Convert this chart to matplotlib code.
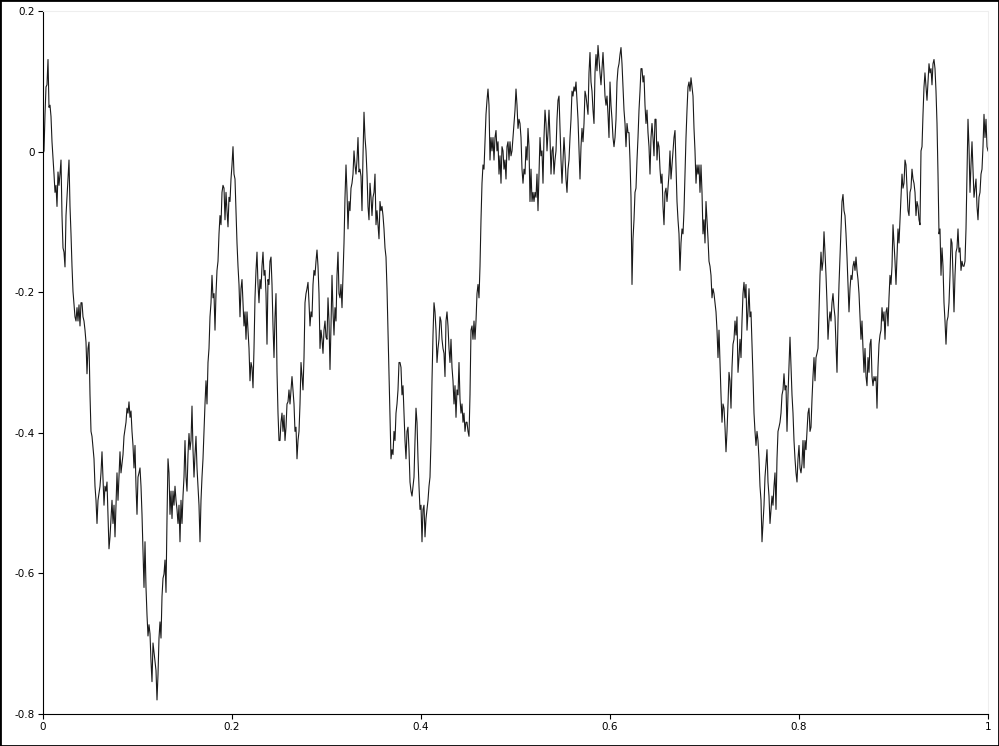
import numpy as np
import matplotlib.pyplot as plt
from matplotlib.patches import Rectangle

# signal values, one per pixel column, left to right
y_seg1 = [-0.003, 0.001, 0.053, 0.092, 0.095, 0.131, 0.063, 0.066, 0.050, 0.014,
          -0.009, -0.032, -0.058, -0.048, -0.078, -0.029, -0.048, -0.032, -0.012, -0.091,
          -0.137, -0.143, -0.164, -0.091, -0.065, -0.039, -0.012, -0.078, -0.117, -0.163,
          -0.199, -0.218, -0.235, -0.241, -0.222, -0.241, -0.218, -0.248, -0.215, -0.215,
          -0.235, -0.241, -0.254, -0.271, -0.316, -0.280, -0.271, -0.346, -0.398, -0.405,
          -0.421, -0.437, -0.476, -0.496, -0.529, -0.496, -0.486, -0.476, -0.457, -0.427,
          -0.463, -0.503, -0.476, -0.483, -0.470, -0.516, -0.565, -0.548, -0.522, -0.496,
          -0.529, -0.503, -0.548, -0.503, -0.457, -0.496, -0.463, -0.427, -0.457, -0.444,
          -0.431, -0.405, -0.395, -0.385, -0.365, -0.372, -0.356, -0.378, -0.369, -0.398,
          -0.418, -0.450, -0.418, -0.476, -0.516, -0.463, -0.457, -0.450, -0.476, -0.516,
          -0.568, -0.620, -0.555, -0.620, -0.659, -0.689, -0.673, -0.686, -0.725, -0.754,
          -0.699, -0.712, -0.725, -0.738, -0.780, -0.744, -0.692]

y_seg2 = [-0.669, -0.692, -0.633, -0.607, -0.601, -0.581, -0.627, -0.522, -0.437, -0.457,
          -0.516, -0.483, -0.522, -0.483, -0.503, -0.476, -0.496, -0.509, -0.529, -0.503,
          -0.555, -0.496, -0.529, -0.490, -0.463, -0.411, -0.463, -0.483, -0.431, -0.401,
          -0.424, -0.411, -0.362, -0.424, -0.463, -0.431, -0.405, -0.450, -0.476, -0.503,
          -0.555, -0.496, -0.463, -0.437, -0.398, -0.359, -0.326, -0.359, -0.300, -0.280,
          -0.235, -0.215, -0.176, -0.208, -0.202, -0.254, -0.202, -0.169, -0.156, -0.117,
          -0.091, -0.104, -0.058, -0.048, -0.052, -0.097, -0.058, -0.084, -0.107, -0.065,
          -0.071, -0.039, -0.019, 0.007, -0.032, -0.039, -0.084, -0.130, -0.163, -0.189,
          -0.235, -0.195, -0.182, -0.215, -0.248, -0.228, -0.267, -0.228, -0.254, -0.280,
          -0.326, -0.300, -0.307, -0.336, -0.280, -0.208, -0.169, -0.143, -0.189, -0.215,
          -0.182, -0.195, -0.163, -0.143, -0.176, -0.169, -0.202, -0.274, -0.182, -0.189,
          -0.156, -0.150, -0.189, -0.248, -0.293, -0.235, -0.202, -0.313, -0.372, -0.411]

y_seg3 = [-0.411, -0.385, -0.372, -0.398, -0.375, -0.411, -0.392, -0.359, -0.356, -0.339,
          -0.359, -0.339, -0.320, -0.339, -0.359, -0.398, -0.392, -0.437, -0.411, -0.398,
          -0.359, -0.300, -0.320, -0.339, -0.293, -0.215, -0.202, -0.195, -0.186, -0.215,
          -0.248, -0.228, -0.235, -0.189, -0.169, -0.176, -0.156, -0.140, -0.163, -0.202,
          -0.280, -0.254, -0.267, -0.287, -0.254, -0.241, -0.264, -0.267, -0.208, -0.241,
          -0.310, -0.248, -0.176, -0.228, -0.261, -0.222, -0.241, -0.176, -0.143, -0.202,
          -0.208, -0.189, -0.222, -0.176, -0.130, -0.065, -0.019, -0.058, -0.110, -0.071,
          -0.084, -0.052, -0.045, -0.032, 0.001, -0.019, -0.032, -0.012, 0.020, -0.029,
          -0.025, -0.035, -0.084, -0.006, 0.056, 0.020, 0.001, -0.032, -0.078, -0.097,
          -0.045, -0.065, -0.091, -0.065, -0.058, -0.032, -0.104, -0.084, -0.104, -0.124,
          -0.071, -0.084, -0.078, -0.091, -0.110, -0.137, -0.150, -0.195, -0.254, -0.307,
          -0.372, -0.437, -0.424, -0.431, -0.398, -0.411, -0.372, -0.359, -0.339, -0.300]

y_seg4 = [-0.300, -0.307, -0.346, -0.333, -0.372, -0.411, -0.437, -0.398, -0.392, -0.424,
          -0.470, -0.483, -0.490, -0.476, -0.463, -0.411, -0.365, -0.385, -0.437, -0.476,
          -0.509, -0.503, -0.555, -0.509, -0.503, -0.548, -0.522, -0.509, -0.496, -0.476,
          -0.463, -0.411, -0.326, -0.261, -0.215, -0.228, -0.254, -0.300, -0.280, -0.267,
          -0.235, -0.241, -0.267, -0.280, -0.287, -0.320, -0.241, -0.228, -0.248, -0.280,
          -0.300, -0.267, -0.307, -0.326, -0.359, -0.333, -0.378, -0.339, -0.346, -0.300,
          -0.352, -0.372, -0.359, -0.385, -0.372, -0.398, -0.385, -0.385, -0.398, -0.405,
          -0.346, -0.254, -0.248, -0.267, -0.241, -0.267, -0.241, -0.202, -0.189, -0.208,
          -0.163, -0.097, -0.045, -0.019, -0.025, 0.014, 0.053, 0.073, 0.089, 0.066,
          -0.012, 0.020, 0.001, 0.020, -0.012, 0.020, 0.030, 0.001, 0.014, -0.032,
          -0.006, -0.045, 0.007, 0.001, -0.025, -0.012, -0.039, 0.007, 0.014, -0.012,
          0.014, -0.006, 0.001, 0.020, 0.040, 0.059, 0.089, 0.066, 0.033, 0.046]

y_seg5 = [0.040, 0.020, -0.025, -0.045, -0.025, -0.032, 0.007, -0.012, 0.033, 0.007,
          -0.071, -0.025, -0.071, -0.058, -0.071, -0.058, -0.065, -0.032, -0.084, -0.032,
          0.020, -0.006, 0.001, -0.045, 0.020, 0.059, 0.040, 0.001, 0.027, 0.059,
          0.020, -0.032, 0.001, 0.007, -0.032, -0.012, 0.001, 0.046, 0.073, 0.079,
          0.033, -0.012, -0.045, -0.012, 0.020, -0.006, -0.039, -0.058, -0.025, -0.012,
          0.020, 0.046, 0.086, 0.079, 0.092, 0.086, 0.099, 0.073, 0.046, 0.001,
          -0.039, 0.007, 0.033, 0.014, 0.040, 0.086, 0.079, 0.066, 0.053, 0.112,
          0.141, 0.099, 0.086, 0.059, 0.040, 0.112, 0.138, 0.115, 0.151, 0.131,
          0.112, 0.095, 0.118, 0.141, 0.112, 0.079, 0.066, 0.079, 0.053, 0.020,
          0.099, 0.066, 0.046, 0.020, 0.007, 0.020, 0.046, 0.099, 0.118, 0.125,
          0.138, 0.148, 0.125, 0.092, 0.059, 0.040, 0.007, 0.040, 0.027, 0.027,
          -0.012, -0.065, -0.189, -0.124, -0.097, -0.058, -0.052, -0.012, 0.020, 0.059]

y_seg6 = [0.086, 0.118, 0.118, 0.099, 0.108, 0.066, 0.040, 0.059, 0.027, 0.007,
          -0.032, 0.020, 0.040, 0.020, -0.006, 0.046, 0.046, -0.012, 0.014, 0.007,
          -0.025, -0.045, -0.032, -0.078, -0.104, -0.058, -0.052, -0.071, -0.052, -0.032,
          0.001, -0.039, -0.019, 0.001, 0.020, 0.030, -0.019, -0.071, -0.097, -0.117,
          -0.169, -0.130, -0.110, -0.117, -0.084, -0.032, 0.020, 0.059, 0.092, 0.099,
          0.086, 0.105, 0.092, 0.079, 0.033, 0.001, -0.045, -0.019, -0.032, -0.019,
          -0.058, -0.019, -0.058, -0.117, -0.097, -0.130, -0.071, -0.097, -0.124, -0.156,
          -0.163, -0.176, -0.208, -0.195, -0.202, -0.215, -0.228, -0.254, -0.293, -0.254,
          -0.300, -0.346, -0.385, -0.359, -0.365, -0.392, -0.427, -0.398, -0.359, -0.314,
          -0.326, -0.365, -0.307, -0.274, -0.267, -0.241, -0.261, -0.235, -0.314, -0.293,
          -0.267, -0.293, -0.241, -0.202, -0.186, -0.208, -0.189, -0.254, -0.228, -0.195,
          -0.235, -0.228, -0.274, -0.320, -0.372, -0.398, -0.418, -0.398, -0.411, -0.437]

y_seg7 = [-0.476, -0.496, -0.555, -0.529, -0.503, -0.463, -0.444, -0.424, -0.470, -0.490,
          -0.529, -0.509, -0.490, -0.503, -0.476, -0.457, -0.509, -0.437, -0.398, -0.392,
          -0.385, -0.372, -0.346, -0.339, -0.316, -0.339, -0.333, -0.398, -0.346, -0.307,
          -0.264, -0.307, -0.346, -0.372, -0.411, -0.437, -0.457, -0.470, -0.437, -0.418,
          -0.450, -0.457, -0.444, -0.411, -0.450, -0.411, -0.424, -0.398, -0.372, -0.365,
          -0.398, -0.392, -0.352, -0.320, -0.293, -0.326, -0.293, -0.287, -0.280, -0.228,
          -0.176, -0.143, -0.169, -0.156, -0.114, -0.143, -0.176, -0.215, -0.267, -0.241,
          -0.228, -0.241, -0.215, -0.202, -0.222, -0.235, -0.274, -0.314, -0.241, -0.189,
          -0.150, -0.110, -0.071, -0.061, -0.084, -0.091, -0.117, -0.150, -0.189, -0.228,
          -0.195, -0.176, -0.182, -0.163, -0.156, -0.169, -0.150, -0.169, -0.182, -0.202,
          -0.235, -0.267, -0.241, -0.280, -0.314, -0.280, -0.320, -0.333, -0.293, -0.314,
          -0.274, -0.267, -0.320, -0.333, -0.320, -0.326, -0.320, -0.365, -0.307, -0.274]

y_seg8 = [-0.261, -0.254, -0.222, -0.241, -0.228, -0.267, -0.228, -0.222, -0.248, -0.208,
          -0.176, -0.189, -0.163, -0.104, -0.130, -0.156, -0.189, -0.150, -0.110, -0.130,
          -0.097, -0.065, -0.032, -0.052, -0.045, -0.012, -0.019, -0.052, -0.084, -0.091,
          -0.058, -0.052, -0.025, -0.039, -0.045, -0.058, -0.091, -0.071, -0.078, -0.097,
          -0.104, 0.001, 0.007, 0.053, 0.092, 0.112, 0.092, 0.073, 0.099, 0.125,
          0.112, 0.118, 0.095, 0.125, 0.131, 0.118, 0.086, 0.040, -0.032, -0.117,
          -0.110, -0.176, -0.137, -0.163, -0.215, -0.241, -0.274, -0.241, -0.235, -0.215,
          -0.176, -0.124, -0.130, -0.176, -0.228, -0.176, -0.143, -0.137, -0.110, -0.143,
          -0.137, -0.169, -0.156, -0.163, -0.163, -0.156, -0.110, -0.032, 0.046, 0.007,
          -0.058, -0.019, 0.014, -0.025, -0.065, -0.052, -0.039, -0.078, -0.097, -0.065,
          -0.058, -0.032, -0.025, 0.007, 0.053, 0.020, 0.046, 0.007, 0.001]

y = np.array(y_seg1 + y_seg2 + y_seg3 + y_seg4 + y_seg5 + y_seg6 + y_seg7 + y_seg8)
x = np.linspace(0, 1, len(y))

xticks = [0, 0.2, 0.4, 0.6, 0.8, 1]
xtick_labels = ['0', '0.2', '0.4', '0.6', '0.8', '1']
yticks = [-0.8, -0.6, -0.4, -0.2, 0, 0.2]
ytick_labels = ['-0.8', '-0.6', '-0.4', '-0.2', '0', '0.2']

fig = plt.figure(figsize=(9.99, 7.46), dpi=100)
ax = fig.add_axes([43 / 999, 32 / 746, 945 / 999, 703 / 746])

ax.plot(x, y, color='#1a1a1a', linewidth=0.8)

ax.set_xlim(0, 1)
ax.set_ylim(-0.8, 0.2)
ax.set_xticks(xticks, xtick_labels)
ax.set_yticks(yticks, ytick_labels)
ax.tick_params(direction='out', length=3.6, width=0.8, labelsize=7.5,
               pad=2, top=False, right=False, colors='black')

for side in ['left', 'bottom']:
    ax.spines[side].set_color('black')
    ax.spines[side].set_linewidth(0.8)
for side in ['top', 'right']:
    ax.spines[side].set_color('#eeeeee')
    ax.spines[side].set_linewidth(0.8)

# thin frame round the whole picture
fig.patches.append(Rectangle((0, 0), 1, 1, transform=fig.transFigure,
                             fill=False, edgecolor='black', linewidth=2))

fig.savefig('out.png', dpi=100)
